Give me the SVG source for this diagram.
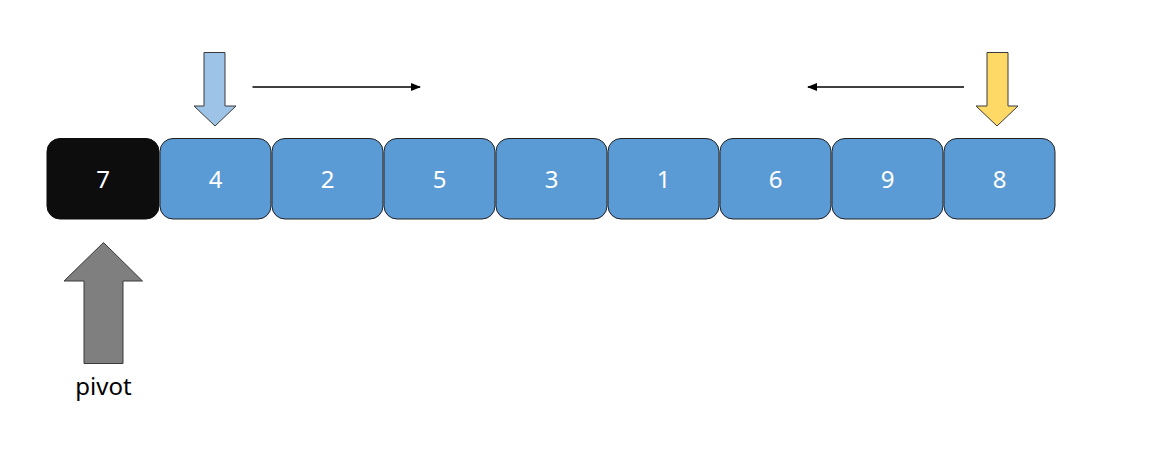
<svg xmlns="http://www.w3.org/2000/svg" width="1157" height="456" viewBox="0 0 1157 456">
<style>
.box{fill:#5B9BD5;stroke:#222;stroke-width:1}
.pv{fill:#0D0D0D;stroke:#0D0D0D;stroke-width:1}
.num{font-family:"Noto Sans","Liberation Sans",sans-serif;font-size:24px;fill:#fff;text-anchor:middle}
.lbl{font-family:"Noto Sans","Liberation Sans",sans-serif;font-size:24px;fill:#000;text-anchor:middle}
.ln{stroke:#000;stroke-width:1.3;fill:none}
.ar{stroke:#3a3a3a;stroke-width:1}
</style>
<defs>
<marker id="ah" markerWidth="10" markerHeight="8" refX="9" refY="4" orient="auto" markerUnits="userSpaceOnUse">
<path d="M0,0 L10,4 L0,8 z" fill="#000"/>
</marker>
</defs>
<rect width="1157" height="456" fill="#fff"/>
<g id="node-7"><rect class="pv" x="47" y="138.5" width="112" height="80.5" rx="13"/><text class="num" x="103" y="188">7</text></g>
<g id="node-4"><rect class="box" x="160" y="138.5" width="111" height="80.5" rx="13"/><text class="num" x="215.5" y="188">4</text></g>
<g id="node-2"><rect class="box" x="272" y="138.5" width="111" height="80.5" rx="13"/><text class="num" x="327.5" y="188">2</text></g>
<g id="node-5"><rect class="box" x="384" y="138.5" width="111" height="80.5" rx="13"/><text class="num" x="439.5" y="188">5</text></g>
<g id="node-3"><rect class="box" x="496" y="138.5" width="111" height="80.5" rx="13"/><text class="num" x="551.5" y="188">3</text></g>
<g id="node-1"><rect class="box" x="608" y="138.5" width="111" height="80.5" rx="13"/><text class="num" x="663.5" y="188">1</text></g>
<g id="node-6"><rect class="box" x="720" y="138.5" width="111" height="80.5" rx="13"/><text class="num" x="775.5" y="188">6</text></g>
<g id="node-9"><rect class="box" x="832" y="138.5" width="111" height="80.5" rx="13"/><text class="num" x="887.5" y="188">9</text></g>
<g id="node-8"><rect class="box" x="944" y="138.5" width="111" height="80.5" rx="13"/><text class="num" x="999.5" y="188">8</text></g>
<g id="left-pointer"><path class="ar" fill="#9DC3E6" d="M204,52.5 H225 V106 H236 L215,126 L194,106 H204 Z"/></g>
<g id="right-pointer"><path class="ar" fill="#FFD966" d="M987,52.5 H1008 V106 H1018 L997,126 L976,106 H987 Z"/></g>
<g id="pivot"><path class="ar" fill="#7F7F7F" d="M103.5,242.5 L142.5,281 H123 V363.5 H84 V281 H64 Z"/><text class="lbl" x="103.5" y="395">pivot</text></g>
<g id="connectors">
<line class="ln" x1="252.5" y1="87" x2="420" y2="87" marker-end="url(#ah)"/>
<line class="ln" x1="964" y1="87" x2="808" y2="87" marker-end="url(#ah)"/>
</g>
</svg>
